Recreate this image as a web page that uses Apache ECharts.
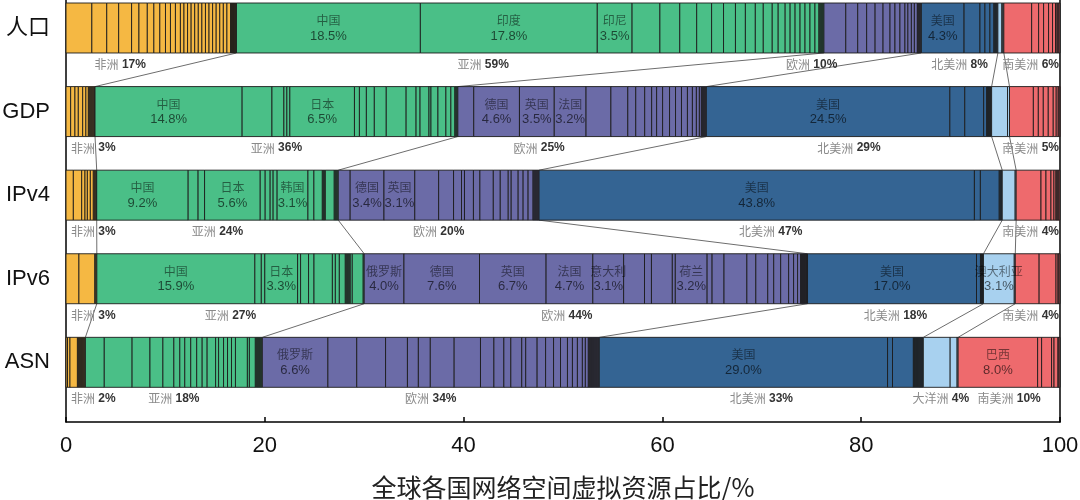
<!DOCTYPE html>
<html><head><meta charset="utf-8">
<script src="https://cdn.jsdelivr.net/npm/echarts@6/dist/echarts.min.js"></script>
<style>html,body{margin:0;padding:0;background:#fff}#c{width:1080px;height:500px}</style>
</head><body><div id="c"></div>
<script>
// ---------------- DATA ----------------
const rowNames = ['人口', 'GDP', 'IPv4', 'IPv6', 'ASN'];
const continentNames = ['非洲', '亚洲', '欧洲', '北美洲', '大洋洲', '南美洲'];

// country shares (%) per row, grouped by continent: Africa, Asia, Europe, N.America, Oceania, S.America
const popShares = [
  [2.6, 1.5, 1.2, 1.3, 0.74, 0.84, 0.66, 0.6, 0.57, 0.5, 0.5, 0.5, 0.36, 0.36, 0.36, 0.36, 0.36, 0.36, 0.36, 0.36, 0.36, 0.36, 0.36, 0.36, 0.36, 0.36, 0.1, 0.1, 0.1, 0.1, 0.1, 0.1],
  [18.5, 17.8, 3.5, 2.8, 2.0, 1.7, 1.5, 1.2, 1.2, 1.0, 1.0, 0.8, 0.9, 0.6, 0.7, 0.5, 0.5, 0.5, 0.5, 0.5, 0.5, 0.4, 0.1, 0.1, 0.1, 0.1, 0.1],
  [2.2, 1.2, 0.9, 0.85, 0.8, 0.7, 0.5, 0.5, 0.5, 0.3, 0.35, 0.3, 0.3, 0.1, 0.1, 0.1, 0.1],
  [4.3, 1.6, 0.5, 0.5, 0.4, 0.1, 0.1, 0.1, 0.1],
  [0.4, 0.1, 0.1],
  [2.8, 0.7, 0.5, 0.5, 0.4, 0.3, 0.15, 0.1, 0.1, 0.1]
];
const gdpShares = [
  [0.47, 0.43, 0.34, 0.44, 0.32, 0.25, 0.1, 0.1, 0.1, 0.1, 0.1, 0.1, 0.07],
  [14.8, 3.0, 1.2, 0.3, 0.3, 6.5, 0.5, 0.7, 0.8, 1.2, 2.0, 1.0, 0.4, 0.9, 0.2, 0.7, 0.8, 0.5, 0.4, 0.1, 0.1, 0.1],
  [1.6, 4.6, 3.5, 3.2, 2.5, 1.7, 0.8, 0.9, 0.7, 0.5, 0.6, 0.7, 0.6, 0.6, 0.6, 0.5, 0.4, 0.3, 0.2, 0.1, 0.1, 0.1, 0.1, 0.1],
  [24.5, 1.5, 1.9, 0.3, 0.1, 0.1, 0.1, 0.1, 0.1],
  [1.6, 0.2],
  [2.4, 0.5, 0.5, 0.5, 0.5, 0.3, 0.2, 0.1, 0.1]
];
const ipv4Shares = [
  [0.74, 0.84, 0.33, 0.24, 0.3, 0.3, 0.1, 0.1, 0.1, 0.04],
  [9.2, 1.0, 0.65, 5.6, 0.5, 0.5, 0.3, 0.4, 3.1, 0.6, 0.85, 0.1, 0.1, 0.1, 0.9, 0.1, 0.1, 0.1, 0.1],
  [1.2, 3.4, 3.1, 2.4, 1.5, 0.8, 0.3, 0.9, 0.65, 1.35, 0.7, 0.8, 0.3, 0.7, 0.5, 0.5, 0.5, 0.1, 0.1, 0.1, 0.1, 0.1, 0.1],
  [43.8, 0.6, 1.9, 0.1, 0.1, 0.1],
  [1.3, 0.1],
  [2.5, 0.5, 0.5, 0.3, 0.2, 0.1, 0.1, 0.1, 0.1]
];
const ipv6Shares = [
  [1.3, 1.6, 0.1, 0.1],
  [15.9, 0.65, 0.35, 3.3, 0.3, 0.8, 0.55, 1.85, 0.3, 0.4, 0.6, 0.1, 0.1, 0.1, 0.1, 0.1, 0.2, 1.1, 0.1],
  [4.0, 7.6, 6.7, 4.7, 3.1, 2.1, 0.7, 2.1, 0.3, 3.2, 0.5, 1.2, 2.3, 0.9, 1.2, 0.6, 0.7, 0.8, 0.5, 0.4, 0.3, 0.1, 0.1, 0.1, 0.1, 0.1, 0.1, 0.1],
  [17.0, 0.4, 0.1, 0.1, 0.1],
  [3.1, 0.1],
  [2.4, 1.7, 0.2, 0.1, 0.1]
];
const asnShares = [
  [0.15, 0.25, 0.75, 0.1, 0.1, 0.1, 0.1, 0.1, 0.1, 0.1, 0.1],
  [1.9, 2.8, 1.8, 1.3, 1.1, 0.6, 0.5, 0.6, 0.6, 0.55, 0.5, 0.85, 0.3, 0.5, 0.4, 0.4, 0.4, 1.2, 0.2, 0.6, 0.1, 0.1, 0.1, 0.1, 0.1, 0.1, 0.1],
  [6.6, 2.9, 2.9, 2.2, 1.1, 1.2, 2.4, 2.65, 1.35, 1.0, 0.7, 1.1, 0.4, 1.15, 0.85, 0.8, 0.7, 0.7, 0.5, 0.5, 0.5, 0.3, 0.3, 0.1, 0.1, 0.1, 0.1, 0.1, 0.1, 0.1, 0.1, 0.1, 0.1, 0.1],
  [29.0, 0.5, 2.1, 0.1, 0.1, 0.1, 0.1, 0.1, 0.1, 0.1, 0.1, 0.1, 0.1],
  [2.7, 0.7, 0.1],
  [8.0, 0.4, 1.0, 0.25, 0.4, 0.1, 0.1]
];
const rowShares = [popShares, gdpShares, ipv4Shares, ipv6Shares, asnShares];

// continent totals shown under each bar (null = not shown)
const continentPct = [
  [17, 59, 10, 8, null, 6],
  [3, 36, 25, 29, null, 5],
  [3, 24, 20, 47, null, 4],
  [3, 27, 44, 18, null, 4],
  [2, 18, 34, 33, 4, 10]
];

// labelled countries: [row, continent, index within continent, name]
const countryLabels = [
  [0, 1, 0, '中国'], [0, 1, 1, '印度'], [0, 1, 2, '印尼'], [0, 3, 0, '美国'],
  [1, 1, 0, '中国'], [1, 1, 5, '日本'], [1, 2, 1, '德国'], [1, 2, 2, '英国'], [1, 2, 3, '法国'], [1, 3, 0, '美国'],
  [2, 1, 0, '中国'], [2, 1, 3, '日本'], [2, 1, 8, '韩国'], [2, 2, 1, '德国'], [2, 2, 2, '英国'], [2, 3, 0, '美国'],
  [3, 1, 0, '中国'], [3, 1, 3, '日本'], [3, 2, 0, '俄罗斯'], [3, 2, 1, '德国'], [3, 2, 2, '英国'], [3, 2, 3, '法国'],
  [3, 2, 4, '意大利'], [3, 2, 9, '荷兰'], [3, 3, 0, '美国'], [3, 4, 0, '澳大利亚'],
  [4, 2, 0, '俄罗斯'], [4, 3, 0, '美国'], [4, 5, 0, '巴西']
];
const xTicks = [0, 20, 40, 60, 80, 100];

// ---------------- STYLE ----------------
const continentColors = ['#F5B843', '#4ABF87', '#6B6BA7', '#346493', '#A8D1EF', '#EE6A6D'];
const labelNudge = { '0-0': -31, '0-1': -47, '0-2': -61, '1-2': -43, '3-2': -19 }; // px shifts of continent labels
const Y_MIN = -0.335, Y_MAX = 4.714, BAR_FRAC = 0.598;
const CJK = '"Noto Sans CJK SC", sans-serif';
const LAT = '"Liberation Sans", Arial, sans-serif';

// ---------------- BUILD ----------------
const segData = [], bounds = [], segIndex = {};
rowShares.forEach((conts, r) => {
  let acc = 0; const b = [0];
  conts.forEach((arr, c) => {
    arr.forEach((v, i) => { segIndex[r + '-' + c + '-' + i] = [acc, acc + v, v]; segData.push([r, acc, acc + v, c]); acc += v; });
    b.push(acc);
  });
  bounds.push(b);
});
const countryData = countryLabels.map(([r, c, i, name]) => {
  const s = segIndex[r + '-' + c + '-' + i];
  return [r, (s[0] + s[1]) / 2, name, s[2].toFixed(1) + '%'];
});
const contData = [];
continentPct.forEach((arr, r) => arr.forEach((p, c) => {
  if (p !== null) contData.push([r, (bounds[r][c] + bounds[r][c + 1]) / 2, c, p]);
}));
const connData = [];
for (let r = 0; r < rowShares.length - 1; r++) {
  for (let k = 1; k < 6; k++) connData.push([r, bounds[r][k], bounds[r + 1][k]]);
}

const mctx = document.createElement('canvas').getContext('2d');
function tw(t, f) { mctx.font = f; return mctx.measureText(t).width; }

const chart = echarts.init(document.getElementById('c'));
chart.setOption({
  animation: false,
  grid: { left: 66, right: 20, top: 0, bottom: 78, containLabel: false, outerBoundsMode: 'none' },
  xAxis: {
    type: 'value', min: 0, max: 100, interval: 20, position: 'bottom',
    axisLine: { show: true, onZero: false, lineStyle: { color: '#000', width: 1.5 } },
    axisTick: { show: true, inside: true, length: 5, lineStyle: { color: '#000', width: 1.5 } },
    axisLabel: { fontSize: 22, color: '#111', fontFamily: LAT, margin: 13, formatter: v => xTicks.includes(v) ? String(v) : '' },
    splitLine: { show: false },
    name: '全球各国网络空间虚拟资源占比/%', nameLocation: 'middle', nameGap: 53,
    nameTextStyle: { fontSize: 25, color: '#222', fontFamily: CJK }
  },
  yAxis: [{
    type: 'value', inverse: true, min: Y_MIN, max: Y_MAX, position: 'left',
    axisLine: { show: true, onZero: false, lineStyle: { color: '#000', width: 1.5 } },
    axisTick: { show: false }, splitLine: { show: false },
    axisLabel: { customValues: [0, 1, 2, 3, 4], formatter: v => rowNames[Math.round(v)] || '', fontSize: 22, color: '#111', fontFamily: LAT + ',' + CJK, margin: 16 }
  }, {
    type: 'value', inverse: true, min: Y_MIN, max: Y_MAX, position: 'right',
    axisLine: { show: true, onZero: false, lineStyle: { color: '#000', width: 1.5 } },
    axisTick: { show: false }, splitLine: { show: false }, axisLabel: { show: false }
  }],
  series: [
    { // connector lines
      type: 'custom', z: 1, data: connData, encode: { x: [1, 2], y: 0 },
      renderItem: (params, api) => {
        const r = api.value(0);
        const h = api.size([0, 1])[1] * BAR_FRAC;
        const a = api.coord([api.value(1), r]), b = api.coord([api.value(2), r + 1]);
        return { type: 'line', shape: { x1: a[0], y1: a[1] + h / 2, x2: b[0], y2: b[1] - h / 2 },
          style: { stroke: '#6d6d6d', lineWidth: 1 } };
      }
    },
    { // country segments
      type: 'custom', z: 2, data: segData, encode: { x: [1, 2], y: 0 },
      renderItem: (params, api) => {
        const r = api.value(0), c = api.value(3);
        const p0 = api.coord([api.value(1), r]), p1 = api.coord([api.value(2), r]);
        const h = api.size([0, 1])[1] * BAR_FRAC;
        return { type: 'rect', shape: { x: p0[0], y: p0[1] - h / 2, width: p1[0] - p0[0], height: h },
          style: { fill: continentColors[c], stroke: '#1c1c1c', lineWidth: 0.9 } };
      }
    },
    { // country labels
      type: 'custom', z: 3, data: countryData.map(d => [d[0], d[1]]), encode: { x: 1, y: 0 },
      renderItem: (params, api) => {
        const d = countryData[params.dataIndex];
        const p = api.coord([d[1], d[0]]);
        return { type: 'group', children: [
          { type: 'text', x: p[0], y: p[1] - 7.5, style: { text: d[2], fill: 'rgba(0,0,0,0.5)', font: '12px ' + CJK, align: 'center', verticalAlign: 'middle' } },
          { type: 'text', x: p[0], y: p[1] + 8, style: { text: d[3], fill: 'rgba(0,0,0,0.62)', font: '13px ' + LAT, align: 'center', verticalAlign: 'middle' } }
        ] };
      }
    },
    { // continent labels
      type: 'custom', z: 4, data: contData.map(d => [d[0], d[1]]), encode: { x: 1, y: 0 },
      renderItem: (params, api) => {
        const d = contData[params.dataIndex];
        const r = d[0], c = d[2];
        const p = api.coord([d[1], r]);
        const h = api.size([0, 1])[1] * BAR_FRAC;
        const x0 = api.coord([0, r])[0], x1 = api.coord([100, r])[0];
        const name = continentNames[c], pct = d[3] + '%';
        const w = tw(name, '12px ' + CJK) + tw(' ', '12px ' + LAT) + tw(pct, 'bold 12px ' + LAT);
        let left = p[0] + (labelNudge[r + '-' + c] || 0) - w / 2;
        if (left < x0 + 5) left = x0 + 5;
        if (left + w > x1 - 1) left = x1 - 1 - w;
        return { type: 'text', x: left, y: p[1] + h / 2 + 11.5, style: {
          text: '{a|' + name + '} {b|' + pct + '}', align: 'left', verticalAlign: 'middle', fontSize: 12, fontFamily: LAT,
          rich: { a: { fill: '#8a8a8a', fontSize: 12, fontFamily: CJK }, b: { fill: '#333', fontSize: 12, fontWeight: 'bold', fontFamily: LAT } }
        } };
      }
    }
  ]
});
</script></body></html>
